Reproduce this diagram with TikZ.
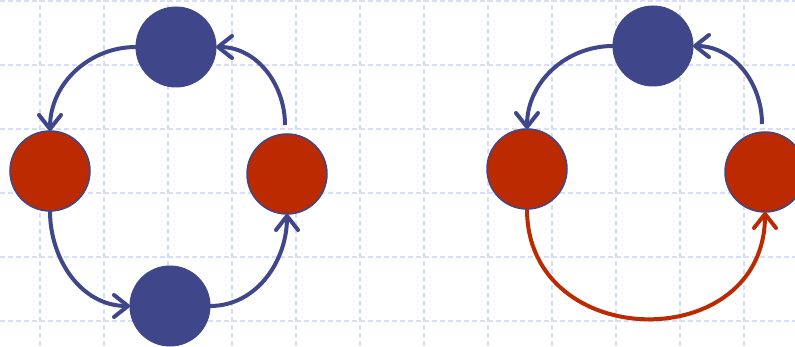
\documentclass[tikz,border=0pt]{standalone}
\usetikzlibrary{arrows.meta}
\definecolor{nblue}{RGB}{64,70,138}
\definecolor{nred}{RGB}{187,42,0}
\definecolor{gridc}{RGB}{214,222,250}
\begin{document}
\begin{tikzpicture}[x=1pt,y=1pt,
  gridline/.style={draw=gridc,line width=1.8pt,dash pattern=on 5pt off 3pt},
  bnode/.style={circle,fill=nblue,draw=nblue,line width=1pt,minimum size=80pt,inner sep=0pt,outer sep=0pt},
  rnode/.style={circle,fill=nred,draw=nblue,line width=1.5pt,minimum size=80pt,inner sep=0pt,outer sep=0pt},
  arr/.style={line width=4pt,-{Straight Barb[length=14pt,width=22pt,round]}},
]
\useasboundingbox (0,0) rectangle (795,346);
\begin{scope}
\clip (0,0) rectangle (795,346);
\foreach \x in {40,104,...,744} \draw[gridline] (\x,0) -- (\x,346);
\foreach \y in {25,89,...,345} \draw[gridline] (0,\y) -- (795,\y);
\end{scope}
% left
\node[bnode] (T) at (176,299) {};
\node[rnode] (L) at (50,175) {};
\node[rnode] (R) at (287,172) {};
\node[bnode] (B) at (170,40) {};
\coordinate (Rs) at (285,221);
\draw[arr,nblue] (T.west) to[out=180,in=90] (L.north);
\draw[arr,nblue] (Rs) to[out=90,in=0] (T.east);
\draw[arr,nblue] (L.south) to[out=-90,in=180] (B.west);
\draw[arr,nblue] (B.east) to[out=0,in=-90] (R.south);
% right
\begin{scope}
\clip (0,0) rectangle (795,346);
\node[bnode] (T2) at (653,300) {};
\node[rnode] (L2) at (527,177) {};
\node[rnode] (R2) at (765,174) {};
\coordinate (R2s) at (762,222);
\draw[arr,nblue] (T2.west) to[out=180,in=90] (L2.north);
\draw[arr,nblue] (R2s) to[out=90,in=0] (T2.east);
\draw[arr,nred] (L2.south) to[out=-90,in=-90,looseness=1.55] (R2.south);
\end{scope}
\end{tikzpicture}
\end{document}
